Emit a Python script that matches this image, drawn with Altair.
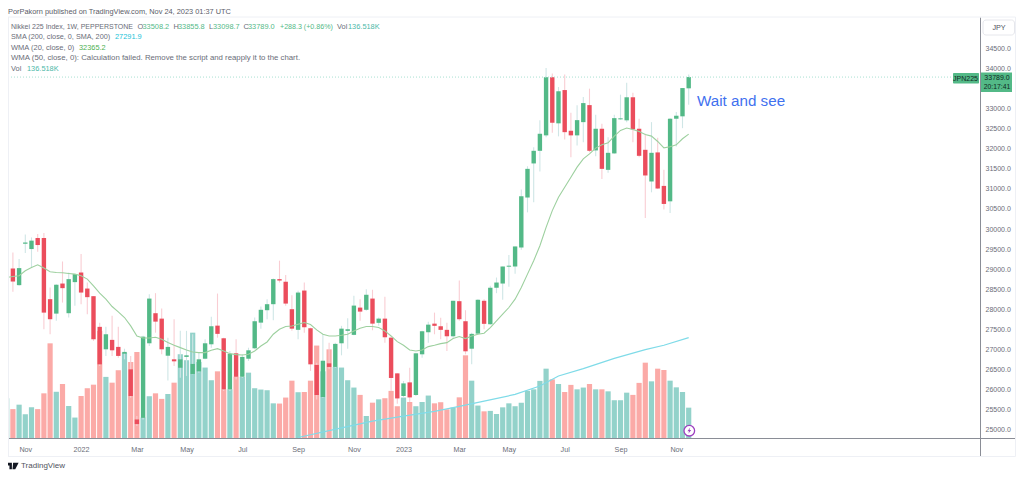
import altair as alt
import pandas as pd

opens = [28480,29015,28600,29635,29500,29775,29775,28250,27890,28640,27900,28675,28915,28515,28325,27560,27000,27235,27060,26890,
26500,25250,25290,27150,27900,27765,26840,26750,26540,26810,26385,26450,26765,27125,27590,27275,26000,26900,26315,26765,
27025,27665,27975,28125,28750,28685,28000,27485,28465,27525,26610,25810,26650,26560,27150,27460,27360,28040,27985,28265,
27660,27765,27290,26400,25835,26175,25860,26875,27425,27640,27575,27485,27325,28200,27700,27015,27390,28210,27625,28535,
28640,29060,29065,29540,30785,31635,31950,32335,33785,32635,33465,32450,32335,32665,33090,31960,32500,31475,31885,32735,
32710,33285,32500,31975,31185,31910,31075,30690,32750,32810,33508.2]
highs = [29210,29415,29250,29865,29790,29875,29900,28540,28625,29190,28915,28875,29375,28665,28325,27665,27565,27835,27565,27015,
26835,25335,27335,28375,28400,28015,27290,27750,27460,27460,27375,26915,27250,27810,28390,27290,26960,27250,26875,27040,
27790,28065,28250,28765,29210,28850,28350,28460,28665,27540,26665,27375,27165,27165,27585,27775,28335,28250,28500,28485,
27790,28310,27315,26400,26210,26540,26915,27460,27685,27915,27785,27665,28210,28715,27975,27415,28250,28250,28585,28790,
29065,29350,29565,30985,31565,32040,32710,34015,33875,33540,33850,32900,33085,33290,33500,32850,32625,32290,32850,33350,
33650,33400,32750,32375,32665,32275,31475,32765,32915,33515,33855.8]
lows = [28460,28435,28585,29400,29040,29435,27500,27375,27710,28165,27790,28085,28125,27875,27210,26585,26835,26835,26790,26750,
25790,25085,25250,27085,27415,26875,26225,26585,26290,26335,26375,26415,26750,27040,27290,25960,25960,26250,26290,26710,
27000,27515,27750,27725,28665,28085,27460,27250,27415,26460,25750,25790,26500,26540,26850,27015,27350,27710,27960,27475,
27585,27165,25960,25640,25790,25685,25835,26790,27165,27375,27250,26960,27290,27710,26875,26625,27375,27500,27610,28400,
28235,28560,28885,29485,30415,30665,31435,32290,32400,32310,32235,31790,32085,32165,31915,31815,31250,31400,31875,32725,
32665,32165,31790,30275,30915,31000,30485,30400,32060,32515,33098.7]
closes = [29170,28690,29025,29665,29710,29600,27915,27750,28610,28525,28750,28875,28415,28300,27250,26625,27375,26975,26835,26935,
25835,25135,27315,28265,27690,27000,27060,26700,26750,26850,26635,26750,27150,27575,27385,26000,26885,26315,26810,26975,
27700,27985,28125,28750,28715,28140,27515,28415,27550,26625,25860,26715,26560,27135,27515,27500,28090,27940,28360,27640,
27765,27300,26285,25775,26150,25800,26900,27450,27615,27585,27485,27325,28210,27750,26950,27385,28235,27635,28535,28665,
29065,29085,29565,30815,31500,31950,32375,33785,32650,33435,32415,32335,32715,33140,31950,32500,31500,31900,32765,32760,
33285,32485,31825,31335,31900,31010,30625,32750,32825,33515,33789.0]
volumes = [179,130,150,107,138,130,201,426,208,243,144,92,189,224,240,482,275,249,305,384,
342,387,92,188,201,176,198,249,377,350,474,342,317,260,300,219,219,276,275,294,
224,218,215,156,155,182,258,206,207,258,416,300,399,320,317,260,227,194,99,159,
174,179,212,143,182,162,143,162,191,156,161,129,137,183,372,258,146,120,122,108,
138,156,143,159,212,219,257,312,264,243,207,239,219,227,243,219,219,210,170,170,
204,194,248,339,255,312,306,258,228,207,136.518]
wma20 = [28792,28817,28833,28958,29042,29108,29025,28933,28917,28908,28892,28875,28833,28750,28583,28400,28250,28067,27933,27792,
27583,27333,27283,27283,27300,27250,27167,27100,27042,26983,26933,26917,26917,26975,27017,26958,26892,26867,26858,26875,
26958,27083,27183,27375,27500,27567,27583,27625,27667,27617,27483,27375,27333,27333,27350,27375,27458,27525,27567,27567,
27542,27458,27333,27192,27100,26983,26958,26983,27067,27100,27142,27167,27267,27317,27267,27333,27375,27400,27542,27708,
27875,28042,28250,28542,28875,29208,29583,30042,30458,30792,31042,31292,31542,31750,31875,32017,32100,32150,32317,32458,
32517,32483,32433,32358,32317,32183,32025,32050,32100,32250,32365.2]
sma_weeks = [48,55,60,65,70,74,78,83,87,90,94,99,104,107,111]
sma200 = [24800,25042,25208,25333,25450,25575,25708,25875,26083,26333,26517,26775,26992,27100,27291.9]
price_ticks = [25000,25500,26000,26500,27000,27500,28000,28500,29000,29500,30000,30500,31000,31500,32000,32500,33000,34000,34500]
month_ticks = ["2021-11-01","2022-01-03","2022-03-07","2022-05-02","2022-07-04","2022-09-05","2022-11-07",
               "2023-01-02","2023-03-06","2023-05-01","2023-07-03","2023-09-04","2023-11-06"]

GREEN, RED = "#53b987", "#eb4d5c"
FONT = "Liberation Sans"
GREY = "#6a6d78"

dates = pd.date_range("2021-10-11", periods=len(closes), freq="7D")
df = pd.DataFrame({"date": dates.strftime("%Y-%m-%d"), "open": opens, "high": highs, "low": lows,
                   "close": closes, "vol": volumes, "wma": wma20})
df["dir"] = ["up" if c >= o else "down" for o, c in zip(opens, closes)]
sma_df = pd.DataFrame({"date": [dates[i - 1].strftime("%Y-%m-%d") for i in sma_weeks], "sma": sma200})

left = dates[0] + pd.Timedelta(days=1.47)
right = dates[0] + pd.Timedelta(days=1098.9)
x_scale = alt.Scale(type="utc", padding=0, domain=[left.strftime("%Y-%m-%dT%H:%M:%SZ"), right.strftime("%Y-%m-%dT%H:%M:%SZ")])
x_axis = alt.Axis(values=month_ticks, title=None, ticks=False, domain=True, domainColor="#8a8d96", grid=False,
                  labelExpr="utcmonth(datum.value)==0 ? utcFormat(datum.value,'%Y') : utcFormat(datum.value,'%b')",
                  labelColor=GREY, labelFontSize=7.2, labelFont=FONT, labelPadding=7)
X = alt.X("date:T", scale=x_scale, axis=x_axis)
p_scale = alt.Scale(domain=[24788, 35287], nice=False, zero=False)
p_axis = alt.Axis(orient="right", values=price_ticks, format=".1f", title=None, ticks=False, grid=False,
                  domainColor="#8a8d96", labelColor=GREY, labelFontSize=7, labelFont=FONT, labelPadding=5)
Y = lambda f: alt.Y(f, scale=p_scale, axis=None)

vol = alt.Chart(df).mark_bar(size=5.2).encode(
    x=X, y=alt.Y("vol:Q", scale=alt.Scale(domain=[0, 1894.5], nice=False), axis=None),
    color=alt.Color("dir:N", scale=alt.Scale(domain=["up", "down"], range=["#93d2ca", "#fbaaa7"]), legend=None))
wick = alt.Chart(df).mark_rule(strokeWidth=1.1).encode(
    x=X, y=alt.Y("low:Q", scale=p_scale, axis=p_axis), y2="high:Q",
    color=alt.Color("dir:N", scale=alt.Scale(domain=["up", "down"], range=["#cfe6e6", "#f9cdd3"]), legend=None))
body = alt.Chart(df).mark_bar(size=4.4).encode(
    x=X, y=Y("open:Q"), y2="close:Q",
    color=alt.Color("dir:N", scale=alt.Scale(domain=["up", "down"], range=[GREEN, RED]), legend=None))
wma = alt.Chart(df).mark_line(color="#9dd09f", strokeWidth=1.1).encode(x=X, y=Y("wma:Q"))
sma = alt.Chart(sma_df).mark_line(color="#7fdbe8", strokeWidth=1.2).encode(x=X, y=Y("sma:Q"))
ONE = pd.DataFrame({"a": [0]})
last = alt.Chart(ONE).mark_rule(color="#a9e0d2", strokeWidth=1, strokeDash=[1, 2]).encode(
    x=alt.value(0), x2=alt.value(945), y=alt.datum(closes[-1], scale=p_scale, axis=None))

def px(v): return v - 8
def py(v): return v - 17

def hline(x1, x2, y, c):
    return alt.Chart(ONE).mark_rule(color=c, strokeWidth=1).encode(
        x=alt.value(px(x1)), x2=alt.value(px(x2)), y=alt.value(py(y)))
def vline(x, y1, y2, c):
    return alt.Chart(ONE).mark_rule(color=c, strokeWidth=1).encode(
        x=alt.value(px(x)), y=alt.value(py(y1)), y2=alt.value(py(y2)))
def box(x1, x2, y1, y2, fill, **kw):
    return alt.Chart(ONE).mark_rect(fill=fill, **kw).encode(
        x=alt.value(px(x1)), x2=alt.value(px(x2)), y=alt.value(py(y1)), y2=alt.value(py(y2)))
def label(t, x, y, c=GREY, size=7.4, align="left", **kw):
    return alt.Chart(ONE).mark_text(align=align, baseline="middle", color=c, fontSize=size, font=FONT, **kw).encode(
        x=alt.value(px(x)), y=alt.value(py(y)), text=alt.value(t))

FRAME = "#eef0f5"
deco = [
    hline(8, 1015.5, 17, FRAME), hline(8, 1015.5, 456.5, FRAME), vline(1015.5, 17, 456.5, FRAME), vline(8.5, 17, 456.5, FRAME),
    hline(980, 1015, 438.5, "#8a8d96"), vline(980.5, 438, 456, "#8a8d96"),
    box(983, 1014.5, 20, 35, "#ffffff", stroke="#e6e7ec", cornerRadius=3),
    label("JPY", 999, 27.5, "#50535e", 7.2, align="center"),
    box(953, 979, 73, 83.5, GREEN, cornerRadius=1),
    label("JPN225", 965.5, 78.5, "#10291f", 7, align="center"),
    box(981, 1012, 72.5, 92, GREEN),
    label("33789.0", 997, 77.8, "#10291f", 7, align="center"),
    label("20:17:41", 997, 87, "#10291f", 6.8, align="center"),
    label("Wait and see", 697, 100.5, "#3f71ef", 15.2),
    label("PorPakorn published on TradingView.com, Nov 24, 2023 01:37 UTC", 8, 11.5, "#5a5d68", 7.4),
    label("Nikkei 225 Index, 1W, PEPPERSTONE", 11, 26.5, size=7),
    label("O", 137.5, 26.5), label("33508.2", 142.5, 26.5, GREEN),
    label("H", 173.5, 26.5), label("33855.8", 178, 26.5, GREEN),
    label("L", 209, 26.5), label("33098.7", 213, 26.5, GREEN),
    label("C", 243.5, 26.5), label("33789.0", 248, 26.5, GREEN),
    label("+288.3 (+0.86%)", 280, 26.5, GREEN, 7.1),
    label("Vol", 337, 26.5), label("136.518K", 348, 26.5, "#4cb8a8"),
    label("SMA (200, close, 0, SMA, 200)", 11, 37, size=7.25), label("27291.9", 115, 37, "#22c3d8"),
    label("WMA (20, close, 0)", 11, 47.5, size=7.5), label("32365.2", 79, 47.5, "#4caf50"),
    label("WMA (50, close, 0): Calculation failed. Remove the script and reapply it to the chart.", 11, 58, size=7.8),
    label("Vol", 11, 68.5), label("136.518K", 27, 68.5, "#4cb8a8"),
    label("TradingView", 21, 465.5, "#50535e", 8),
    alt.Chart(ONE).mark_point(shape="M-1,-0.55 L-0.1,-0.55 L-0.1,0.55 L-0.5,0.55 L-0.5,-0.1 L-1,-0.1 Z M0.1,-0.55 L1,-0.55 L0.45,0.55 L0,0.55 Z",
                              filled=True, color="#131722", opacity=1, size=150).encode(
        x=alt.value(px(12.5)), y=alt.value(py(466))),
    alt.Chart(ONE).mark_point(shape="circle", filled=True, color="#ffffff", stroke="#9c3fc0", strokeWidth=1.3, opacity=1, size=113).encode(
        x=alt.value(px(689.3)), y=alt.value(py(430.7))),
    alt.Chart(ONE).mark_point(shape="M0.3,-1 L-0.6,0.15 L-0.05,0.15 L-0.3,1 L0.6,-0.2 L0.05,-0.2 Z",
                              filled=True, color="#9c3fc0", opacity=1, size=40).encode(
        x=alt.value(px(689.3)), y=alt.value(py(430.7))),
]

chart = alt.layer(vol, wick, body, wma, sma, last, *deco).resolve_scale(y="independent", color="independent").properties(
    width=972, height=421, padding={"left": 0, "top": 9, "right": 36, "bottom": 32},
    autosize=alt.AutoSizeParams(type="none"), background="#ffffff",
).configure_view(stroke=None)

chart.save("out.html", embed_options={"renderer": "svg", "actions": False})
